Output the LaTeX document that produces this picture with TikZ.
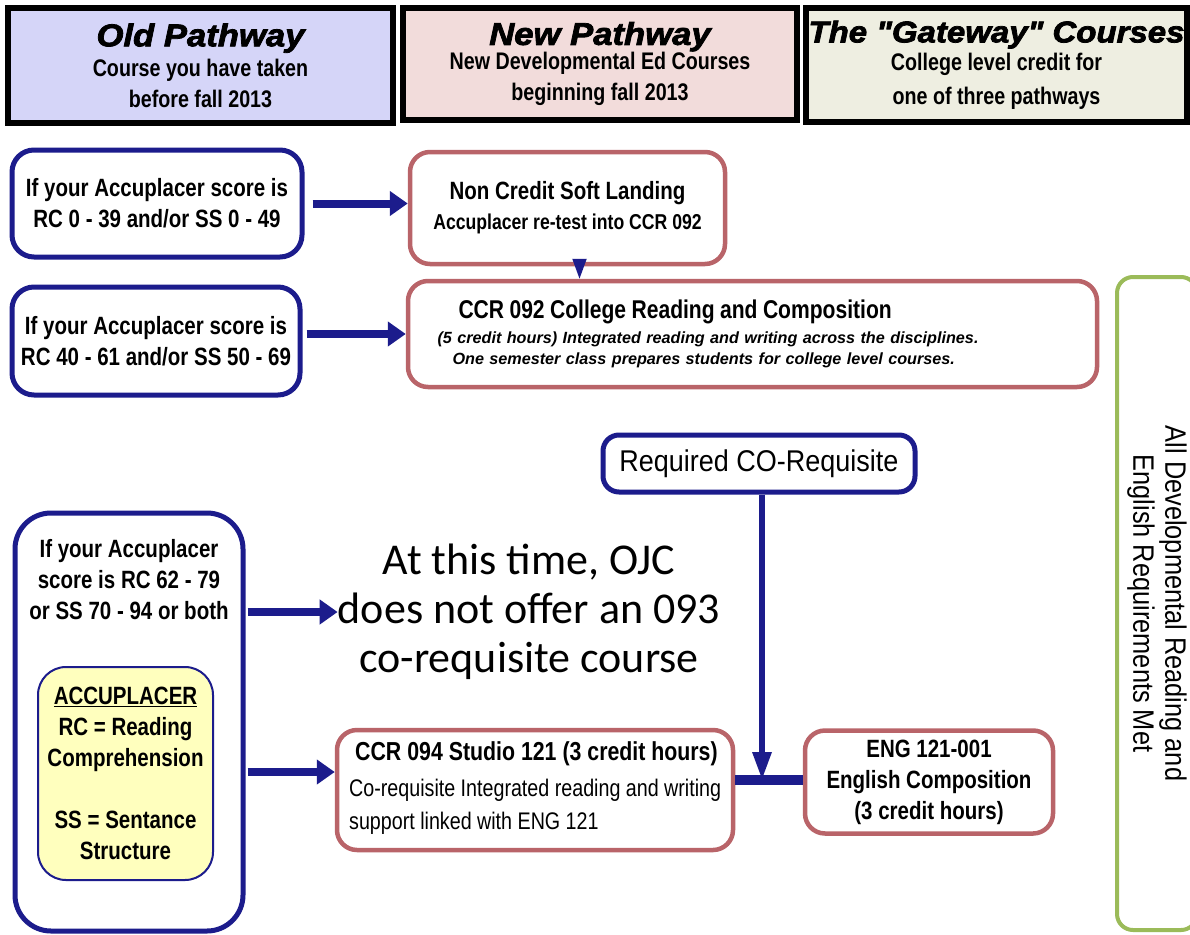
\documentclass[tikz,border=0pt]{standalone}
\usepackage{fontspec}
\setmainfont{Liberation Sans}
\newfontfamily\nar[FakeStretch=0.82]{Liberation Sans}
\newfontfamily\narw[FakeStretch=0.9]{Liberation Sans}
\newfontfamily\narg[FakeStretch=0.86]{Liberation Sans}
\newfontfamily\blkfont[FakeStretch=1.1,FakeBold=2.5]{Liberation Sans}
\newfontfamily\calfont{Carlito}
\usetikzlibrary{arrows.meta}
\definecolor{navy}{RGB}{28,28,140}
\definecolor{brownred}{RGB}{185,100,105}
\definecolor{grn}{RGB}{155,187,89}
\definecolor{lav}{RGB}{213,213,248}
\definecolor{pinkish}{RGB}{242,220,219}
\definecolor{beige}{RGB}{238,238,225}
\definecolor{yel}{RGB}{255,255,190}
\newcommand{\fsz}[2]{\fontsize{#1}{#2}\selectfont}
\newcommand{\ttlfont}[1]{\blkfont\bfseries\itshape\fsz{#1}{31}}
\tikzset{
  hdr/.style={draw=black, line width=6pt, rectangle, inner sep=0pt, align=center},
  bluebox/.style={draw=navy, line width=5pt, rounded corners=22pt, fill=white, inner sep=0pt, align=center},
  redbox/.style={draw=brownred, line width=4.5pt, rounded corners=20pt, fill=white, inner sep=0pt, align=center},
  arr/.style={draw=navy, line width=8pt, -{Triangle[length=18pt,width=24pt]}},
  smallarr/.style={draw=navy, line width=2pt, -{Triangle[length=20pt,width=14pt]}},
  vertarr/.style={draw=navy, line width=6pt, -{Triangle[length=28pt,width=18pt]}},
  joinline/.style={draw=navy, line width=10pt},
  nb/.style={font=\nar\bfseries\fsz{25}{31}},
}
\begin{document}
\begin{tikzpicture}[x=1pt,y=-1pt]
\useasboundingbox (0,0) rectangle (1190,934);
\clip (0,0) rectangle (1190,934);
\fill[white] (0,0) rectangle (1190,934);

% headers
\node[hdr, fill=lav, minimum width=385pt, minimum height=115pt, font=\nar\bfseries\fsz{24}{31}] (oldh) at (200.5,65.5)
  {{\ttlfont{31.5}Old Pathway}\\[-1pt]
   Course you have taken\\
   before fall 2013};
\node[hdr, fill=pinkish, minimum width=394pt, minimum height=112pt, font=\nar\bfseries\fsz{24}{31}] (newh) at (600,64)
  {{\ttlfont{31.5}New Pathway}\\[-6pt]
   New Developmental Ed Courses\\
   beginning fall 2013};
\node[hdr, fill=beige, minimum width=381pt, minimum height=114pt, font=\nar\bfseries\fsz{24}{31}] (gateh) at (996.5,65)
  {{\ttlfont{30}The \char34Gateway\char34{} Courses}\\[-3pt]
   College level credit for\\[3pt]
   one of three pathways};

% row 1
\node[bluebox, minimum width=290pt, minimum height=107pt, nb] (b1) at (157,203.5)
  {If your Accuplacer score is\\RC 0 - 39 and/or SS 0 - 49};
\node[redbox, minimum width=315pt, minimum height=112pt, font=\nar\bfseries\fsz{21.5}{30}] (nc) at (567.5,208)
  {{\fsz{25}{30}Non Credit Soft Landing}\\
   Accuplacer re-test into CCR 092};

% row 2
\node[bluebox, minimum width=288pt, minimum height=108pt, nb] (b2) at (156,341)
  {If your Accuplacer score is\\RC 40 - 61 and/or SS 50 - 69};
\node[redbox, minimum width=689pt, minimum height=106pt, text width=630pt, align=left,
      font=\bfseries\itshape\fsz{16.2}{21}] (c92) at (752.5,334)
  {\hspace*{21pt}{\nar\upshape\fsz{25.7}{21}CCR 092 College Reading and Composition}\\[3.5pt]
   (5 credit hours) Integrated reading and writing across the disciplines.\\
   \hspace*{15pt}One semester class prepares students for college level courses.};

% right green box
\node[draw=grn, line width=4pt, rounded corners=16pt, minimum width=653pt, minimum height=80pt,
      rotate=-90, inner sep=0pt, align=center, font=\narg\fsz{29.5}{32}] (green) at (1157,603.5)
  {All Developmental Reading and\\English Requirements Met};

% row 3
\node[bluebox, minimum width=312pt, minimum height=57pt, rounded corners=16pt, font=\narw\fsz{30}{34}] (req) at (759,463.5)
  {Required CO-Requisite};
\node[bluebox, minimum width=228pt, minimum height=418pt, rounded corners=36pt] (bigbox) at (129,722) {};
\node[nb, align=center, inner sep=0pt] (bigt) at (129,580)
  {If your Accuplacer\\score is RC 62 - 79\\or SS 70 - 94 or both};
\node[draw=navy, line width=2pt, fill=yel, rounded corners=28pt, minimum width=175pt, minimum height=213pt,
      inner sep=0pt, align=center, nb] (yelbox) at (125.5,773.5)
  {\underline{ACCUPLACER}\\RC = Reading\\Comprehension\\[31pt]SS = Sentance\\Structure};
\node[font=\calfont\fsz{44}{49}, align=center, inner sep=0pt] (ojc) at (529,612)
  {At this time, OJC\\does not offer an 093\\co-requisite course};
\node[redbox, minimum width=396pt, minimum height=120pt] (c94) at (535,790) {};
\node[anchor=west, inner sep=0pt, align=left, font=\nar\fsz{24}{33}] (c94t) at (349,788)
  {\hspace*{6pt}{\bfseries\fsz{26}{33}CCR 094 Studio 121 (3 credit hours)}\\[3pt]
   Co-requisite Integrated reading and writing\\
   support linked with ENG 121};
\node[redbox, minimum width=248pt, minimum height=103pt, nb] (eng) at (929,782)
  {ENG 121-001\\English Composition\\(3 credit hours)};

% connectors
\coordinate (junc) at (762,780);
\draw[arr, shorten <=8pt] (b1.east) -- (nc.west |- b1.east);
\draw[arr, shorten <=4pt] (b2.east |- c92.west) -- (c92.west);
\draw[smallarr] ([xshift=12pt]nc.south) -- ([xshift=12pt]nc.south |- c92.north);
\draw[arr, shorten <=2pt] (bigbox.east |- ojc.west) -- (ojc.west);
\coordinate (c94in) at ([yshift=18pt]c94.west);
\draw[arr, shorten <=2pt] (bigbox.east |- c94in) -- (c94in);
\draw[joinline] (c94.east |- junc) -- (eng.west |- junc);
\draw[vertarr] (req.south -| junc) -- (junc);
\end{tikzpicture}
\end{document}
